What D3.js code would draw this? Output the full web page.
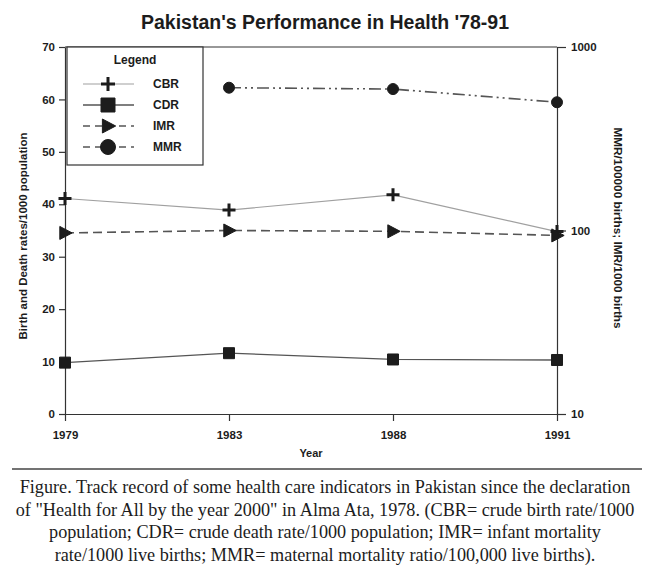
<!DOCTYPE html>
<html>
<head>
<meta charset="utf-8">
<script src="https://cdn.jsdelivr.net/npm/d3@7"></script>
<style>
  body { margin: 0; background: #fff; }
  text { fill: #1c1c1c; }
</style>
</head>
<body>
<div id="chart"></div>
<script>
// chart values
var years = ['1979', '1983', '1988', '1991'];
var cbr = [41.1, 38.9, 41.8, 34.8];
var cdr = [9.8, 11.6, 10.4, 10.3];
var imr = [97, 100, 99, 94];
var mmr = [null, 600, 590, 500];
var left_ticks = [0, 10, 20, 30, 40, 50, 60, 70];
var right_ticks = [10, 100, 1000];
var legend_names = ['CBR', 'CDR', 'IMR', 'MMR'];
var caption_lines = [
    'Figure. Track record of some health care indicators in Pakistan since the declaration',
    'of "Health for All by the year 2000" in Alma Ata, 1978. (CBR= crude birth rate/1000',
    'population; CDR= crude death rate/1000 population; IMR= infant mortality',
    'rate/1000 live births; MMR= maternal mortality ratio/100,000 live births).'
];

var width = 650;
var height = 566;

var plot_left = 65;
var plot_right = 557;
var plot_top = 47;
var plot_bottom = 414;

var ink = '#1c1c1c';
var font = 'Liberation Sans, Arial, sans-serif';

var svg = d3.select('#chart')
  .append('svg')
    .attr('width', width)
    .attr('height', height);

var x = d3.scalePoint()
    .domain(years)
    .range([plot_left, plot_right]);

var y_left = d3.scaleLinear()
    .domain([0, 70])
    .range([plot_bottom, plot_top]);

var y_right = d3.scaleLog()
    .domain([10, 1000])
    .range([plot_bottom, plot_top]);

// frame top line
svg.append('line')
    .attr('x1', plot_left)
    .attr('x2', plot_right)
    .attr('y1', plot_top)
    .attr('y2', plot_top)
    .attr('stroke', '#333')
    .attr('stroke-width', 1.2);

function styleAxis(g) {
    g.selectAll('path.domain')
        .attr('stroke', '#333')
        .attr('stroke-width', 1.2);
    g.selectAll('.tick line')
        .attr('stroke', '#333')
        .attr('stroke-width', 1.2);
    g.selectAll('.tick text')
        .attr('font-family', font)
        .attr('font-weight', 'bold')
        .attr('font-size', '11.5px')
        .style('fill', ink);
}

// left axis
svg.append('g')
    .attr('transform', 'translate(' + plot_left + ',0)')
    .call(d3.axisLeft(y_left)
        .tickValues(left_ticks)
        .tickSize(6)
        .tickSizeOuter(0)
        .tickPadding(4))
    .call(styleAxis);

// right axis
svg.append('g')
    .attr('transform', 'translate(' + plot_right + ',0)')
    .call(d3.axisRight(y_right)
        .tickValues(right_ticks)
        .tickFormat(d3.format('d'))
        .tickSize(9)
        .tickSizeOuter(0)
        .tickPadding(5))
    .call(styleAxis);

// bottom axis
var x_axis = svg.append('g')
    .attr('transform', 'translate(0,' + plot_bottom + ')')
    .call(d3.axisBottom(x)
        .tickSize(7)
        .tickSizeOuter(0)
        .tickPadding(10))
    .call(styleAxis);

// axis titles
svg.append('text')
    .text("Pakistan's Performance in Health '78-91")
    .attr('x', 325)
    .attr('y', 29)
    .attr('text-anchor', 'middle')
    .attr('font-family', font)
    .attr('font-weight', 'bold')
    .attr('font-size', '19.5px');

svg.append('text')
    .text('Year')
    .attr('x', (plot_left + plot_right) / 2)
    .attr('y', 457)
    .attr('text-anchor', 'middle')
    .attr('font-family', font)
    .attr('font-weight', 'bold')
    .attr('font-size', '11px');

svg.append('text')
    .text('Birth and Death rates/1000 population')
    .attr('transform', 'translate(27,236) rotate(-90)')
    .attr('text-anchor', 'middle')
    .attr('font-family', font)
    .attr('font-weight', 'bold')
    .attr('font-size', '11.5px');

svg.append('text')
    .text('MMR/100000 births; IMR/1000 births')
    .attr('transform', 'translate(614,228) rotate(90)')
    .attr('text-anchor', 'middle')
    .attr('font-family', font)
    .attr('font-weight', 'bold')
    .attr('font-size', '11.8px');

// series settings
var series = [
    {name: 'CBR', values: cbr, scale: y_left, stroke: '#a0a0a0', width: 1.2, dash: null, marker: 'plus'},
    {name: 'CDR', values: cdr, scale: y_left, stroke: '#555', width: 1.3, dash: null, marker: 'square'},
    {name: 'IMR', values: imr, scale: y_right, stroke: '#555', width: 1.6, dash: '9,5', marker: 'triangle'},
    {name: 'MMR', values: mmr, scale: y_right, stroke: '#555', width: 1.6, dash: '12,4,2,4,2,4', marker: 'circle'}
];

function markerPath(kind, s) {
    if(kind == 'plus') {
        return 'M' + (-s) + ',0H' + s + 'M0,' + (-s) + 'V' + s;
    }
    if(kind == 'square') {
        return 'M' + (-s) + ',' + (-s) + 'H' + s + 'V' + s + 'H' + (-s) + 'Z';
    }
    if(kind == 'triangle') {
        return 'M' + (-s * 0.8) + ',' + (-s) + 'L' + (s * 1.1) + ',0L' + (-s * 0.8) + ',' + s + 'Z';
    }
    return d3.symbol().type(d3.symbolCircle).size(Math.PI * s * s)();
}

function drawMarker(g, kind, s) {
    var p = g.append('path')
        .attr('d', markerPath(kind, s));
    if(kind == 'plus') {
        p.attr('fill', 'none')
            .attr('stroke', ink)
            .attr('stroke-width', 3);
    }
    else {
        p.attr('fill', ink)
            .attr('stroke', ink)
            .attr('stroke-width', 1);
    }
}

// lines and markers
for(var i = 0; i < series.length; i++) {
    var s = series[i];
    var pts = years.map(function(yr, j) {
        return {year: yr, value: s.values[j]};
    }).filter(function(d) {
        return d.value != null;
    });

    var line = d3.line()
        .x(function(d) { return x(d.year); })
        .y((function(sc) {
            return function(d) { return sc(d.value); };
        })(s.scale));

    svg.append('path')
        .datum(pts)
        .attr('d', line)
        .attr('fill', 'none')
        .attr('stroke', s.stroke)
        .attr('stroke-width', s.width)
        .attr('stroke-dasharray', s.dash);

    var g = svg.append('g');
    for(var k = 0; k < pts.length; k++) {
        var mg = g.append('g')
            .attr('transform', 'translate(' + x(pts[k].year) + ',' + s.scale(pts[k].value) + ')');
        drawMarker(mg, s.marker, s.marker == 'circle' ? 5.5 : (s.marker == 'square' ? 5.5 : 6.5));
    }
}

// legend
var legend = svg.append('g');
legend.append('rect')
    .attr('x', plot_left + 2)
    .attr('y', plot_top)
    .attr('width', 136)
    .attr('height', 118)
    .attr('fill', '#fff')
    .attr('stroke', '#333')
    .attr('stroke-width', 1.2);

legend.append('text')
    .text('Legend')
    .attr('x', 135)
    .attr('y', 64)
    .attr('text-anchor', 'middle')
    .attr('font-family', font)
    .attr('font-weight', 'bold')
    .attr('font-size', '12px');

for(var n = 0; n < legend_names.length; n++) {
    var ls = series[n];
    var ly = 84 + n * 21;
    legend.append('line')
        .attr('x1', 83)
        .attr('x2', 134)
        .attr('y1', ly)
        .attr('y2', ly)
        .attr('stroke', ls.stroke)
        .attr('stroke-width', ls.width)
        .attr('stroke-dasharray', ls.dash == null ? null : '7,5');
    var lg = legend.append('g')
        .attr('transform', 'translate(108,' + ly + ')');
    drawMarker(lg, ls.marker, ls.marker == 'circle' ? 7.5 : 7);
    legend.append('text')
        .text(legend_names[n])
        .attr('x', 153)
        .attr('y', ly + 4)
        .attr('font-family', font)
        .attr('font-weight', 'bold')
        .attr('font-size', '12px');
}

// caption rule and text
svg.append('line')
    .attr('x1', 12)
    .attr('x2', 642)
    .attr('y1', 469)
    .attr('y2', 469)
    .attr('stroke', '#444')
    .attr('stroke-width', 1.3);

svg.append('g')
    .selectAll('text.caption')
    .data(caption_lines)
  .enter()
    .append('text')
    .attr('class', 'caption')
    .text(function(d) { return d; })
    .attr('x', 325)
    .attr('y', function(d, i) { return 493 + i * 22.5; })
    .attr('text-anchor', 'middle')
    .attr('font-family', 'Liberation Serif, Times New Roman, serif')
    .attr('font-size', '18.2px');
</script>
</body>
</html>
